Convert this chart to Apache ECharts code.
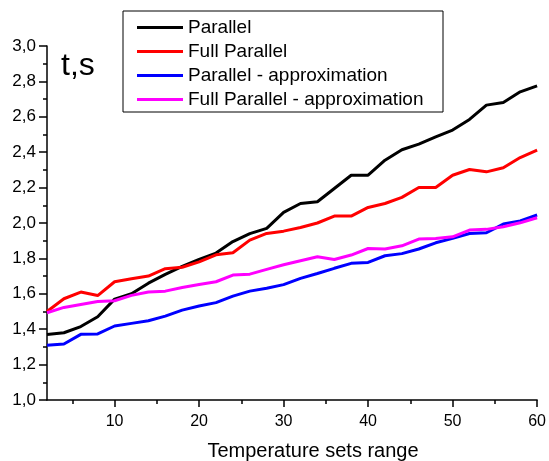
<!DOCTYPE html>
<html>
<head>
<meta charset="utf-8">
<script src="https://cdn.jsdelivr.net/npm/echarts@6/dist/echarts.min.js"></script>
<style>html,body{margin:0;padding:0;background:#fff}#c{width:549px;height:461px}</style>
</head>
<body>
<div id="c"></div>
<script>
const xValues = [2,4,6,8,10,12,14,16,18,20,22,24,26,28,30,32,34,36,38,40,42,44,46,48,50,52,54,56,58,60];
const parallel = [1.37,1.38,1.415,1.47,1.57,1.60,1.66,1.71,1.755,1.795,1.83,1.895,1.94,1.97,2.06,2.11,2.12,2.195,2.27,2.27,2.355,2.414,2.446,2.487,2.525,2.585,2.666,2.681,2.741,2.775];
const fullParallel = [1.50,1.572,1.61,1.59,1.668,1.685,1.70,1.742,1.75,1.78,1.82,1.832,1.903,1.941,1.954,1.975,2.00,2.039,2.039,2.088,2.11,2.145,2.201,2.201,2.27,2.302,2.289,2.312,2.37,2.412];
const parallelApprox = [1.309,1.316,1.371,1.373,1.418,1.433,1.448,1.474,1.508,1.531,1.55,1.587,1.615,1.631,1.652,1.687,1.715,1.744,1.772,1.777,1.815,1.827,1.853,1.888,1.913,1.941,1.945,1.994,2.012,2.045];
const fullParallelApprox = [1.493,1.523,1.54,1.557,1.561,1.591,1.61,1.615,1.636,1.653,1.668,1.706,1.711,1.738,1.764,1.787,1.809,1.794,1.819,1.856,1.853,1.871,1.909,1.913,1.922,1.96,1.964,1.979,2.001,2.03];
const xMajorTicks = [10,20,30,40,50,60];
const xMinorTicks = [5,15,25,35,45,55];
const seriesNames = ['Parallel','Full Parallel','Parallel - approximation','Full Parallel - approximation'];
const seriesColors = ['#000000','#ff0000','#0000ff','#ff00ff'];
const seriesData = [parallel, fullParallel, parallelApprox, fullParallelApprox];

const FONT = 'Liberation Sans, Arial, sans-serif';
const chart = echarts.init(document.getElementById('c'), null, {renderer:'canvas'});
chart.setOption({
  animation: false,
  backgroundColor: '#fff',
  grid: {left: 47, right: 7, top: 46, bottom: 61, containLabel: false},
  xAxis: [{
    type: 'value', min: 2, max: 60, position: 'bottom',
    axisLine: {show: true, lineStyle: {color: '#000', width: 1.5}},
    axisTick: {show: true, customValues: xMajorTicks, length: 7, lineStyle: {color: '#000', width: 1.5}},
    axisLabel: {customValues: xMajorTicks, color: '#000', fontSize: 16, fontFamily: FONT, margin: 14},
    splitLine: {show: false}
  },{
    type: 'value', min: 2, max: 60, position: 'bottom', offset: 0,
    axisLine: {show: false},
    axisTick: {show: true, customValues: xMinorTicks, length: 4, lineStyle: {color: '#000', width: 1.5}},
    axisLabel: {show: false},
    splitLine: {show: false}
  }],
  yAxis: {
    type: 'value', min: 1.0, max: 3.0, interval: 0.2,
    axisLine: {show: true, lineStyle: {color: '#000', width: 1.5}},
    axisTick: {show: true, length: 8, lineStyle: {color: '#000', width: 1.5}},
    minorTick: {show: true, splitNumber: 2, length: 4, lineStyle: {color: '#000', width: 1.5}},
    axisLabel: {color: '#000', fontSize: 17, fontFamily: FONT, margin: 11,
      formatter: v => v.toFixed(1).replace('.', ',')},
    splitLine: {show: false}
  },
  legend: {
    orient: 'vertical', left: 137, top: 18, padding: 0,
    icon: 'rect', itemWidth: 46, itemHeight: 3, itemGap: 5,
    textStyle: {color: '#000', fontSize: 19, fontFamily: FONT, lineHeight: 17},
    data: seriesNames
  },
  graphic: [
    {type: 'rect', shape: {x: 123, y: 11, width: 320, height: 101}, style: {fill: 'none', stroke: '#000', lineWidth: 1}, z: 10},
    {type: 'text', left: 61, top: 50, style: {text: 't,s', fontSize: 32, fontFamily: FONT, fill: '#000'}},
    {type: 'text', x: 313, y: 441, style: {text: 'Temperature sets range', fontSize: 20, fontFamily: FONT, fill: '#000', align: 'center', verticalAlign: 'top'}}
  ],
  series: seriesNames.map((n, i) => ({
    name: n, type: 'line', xAxisIndex: 0,
    data: xValues.map((x, j) => [x, seriesData[i][j]]),
    showSymbol: false, symbol: 'none',
    lineStyle: {color: seriesColors[i], width: 3},
    itemStyle: {color: seriesColors[i]}
  }))
});
</script>
</body>
</html>
